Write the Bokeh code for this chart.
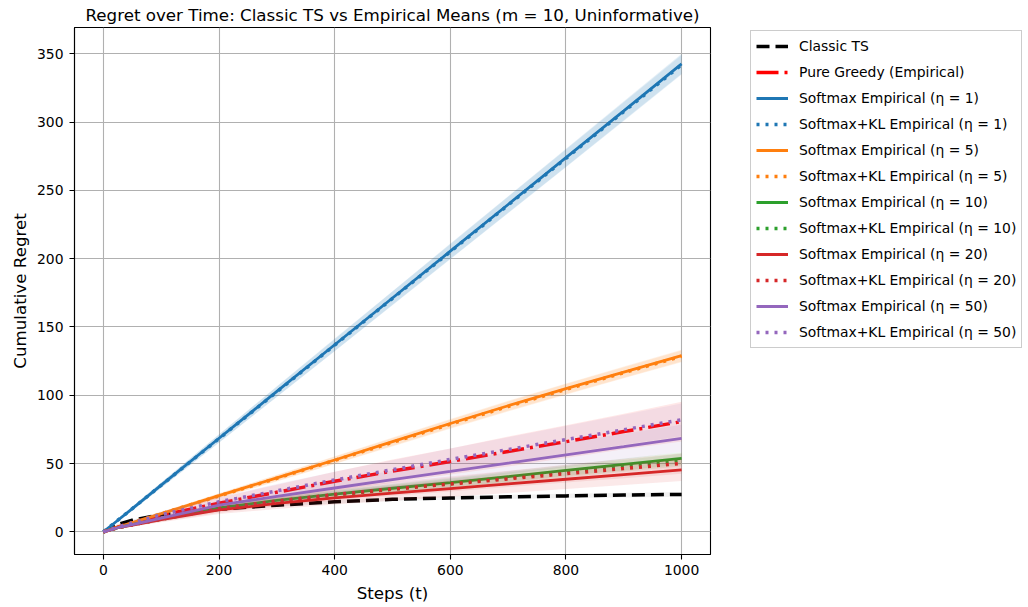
from bokeh.plotting import figure
from bokeh.models import Legend, LegendItem, Range1d, FixedTicker
from bokeh.embed import file_html
from bokeh.resources import INLINE

# ---------------- data ----------------
steps = [0, 25, 50, 100, 200, 300, 400, 500, 600, 700, 800, 900, 1000]

classic_ts = [0, 5.5, 8.5, 12.5, 16.5, 19.5, 22, 23.8, 24.8, 25.6, 26.3, 26.9, 27.4]
classic_ts_sd = [0, 0.5, 0.6, 0.8, 1, 1.1, 1.2, 1.3, 1.4, 1.5, 1.6, 1.7, 1.8]

greedy = [0, 3.5, 6.5, 12, 21, 29, 37, 44.5, 51.5, 58.8, 66, 73.4, 80.7]
greedy_sd = [0, 1, 1.5, 2.5, 4, 5.5, 7, 8.5, 9.5, 11, 12, 13, 14.5]

soft_1 = [0, 8.5, 17, 34.2, 68.5, 102.8, 137, 171.2, 205.5, 239.7, 274, 308.3, 342.7]
soft_1_sd = [0, 1, 1.5, 2, 3, 3.8, 4.5, 5, 5.6, 6.1, 6.6, 7, 7.3]
kl_1 = [0, 8.5, 17, 34.1, 68.3, 102.5, 136.7, 170.9, 205.1, 239.3, 273.5, 307.7, 342]
kl_1_sd = [0, 1, 1.5, 2, 3, 3.7, 4.4, 5, 5.5, 6, 6.5, 6.9, 7.2]

soft_5 = [0, 3.5, 6.8, 13.3, 26.5, 39.5, 52.6, 66, 79.3, 92.3, 104.8, 117, 129]
soft_5_sd = [0, 0.5, 0.8, 1.2, 1.8, 2.3, 2.7, 3, 3.3, 3.6, 3.9, 4.1, 4.3]
kl_5 = [0, 3.5, 6.8, 13.2, 26.3, 39.2, 52.3, 65.5, 78.8, 91.8, 104.3, 116.5, 128.5]
kl_5_sd = [0, 0.5, 0.8, 1.2, 1.8, 2.3, 2.7, 3, 3.3, 3.6, 3.9, 4.1, 4.3]

soft_10 = [0, 3, 5.2, 9.5, 17.5, 23, 27.6, 31.9, 36.1, 40.5, 45, 49.4, 53.8]
soft_10_sd = [0, 0.5, 1, 1.5, 2, 2.5, 3, 3.2, 3.5, 3.8, 4, 4.3, 4.5]
kl_10 = [0, 3, 5.1, 9.3, 17, 22.4, 27, 31.2, 35.4, 39.7, 44, 48.3, 52.6]
kl_10_sd = [0, 0.5, 1, 1.5, 2, 2.5, 3, 3.2, 3.5, 3.8, 4, 4.3, 4.5]

soft_20 = [0, 3, 5, 9, 16, 20.8, 24.8, 28.3, 31.7, 35.1, 38.5, 41.9, 45.3]
soft_20_sd = [0, 0.8, 1.2, 2, 3, 4, 4.8, 5.5, 6, 6.6, 7.1, 7.6, 8]
kl_20 = [0, 3, 5.1, 9.3, 17, 22.5, 27.3, 31.3, 35, 38.8, 42.6, 46.3, 50.1]
kl_20_sd = [0, 0.8, 1.2, 2, 3, 3.8, 4.5, 5, 5.5, 6, 6.5, 7, 7.5]

soft_50 = [0, 3, 5.3, 10, 19.5, 26, 32.1, 38.2, 44.2, 50.3, 56.4, 62.4, 68.5]
soft_50_sd = [0, 1, 1.5, 2, 3.5, 4.5, 5.5, 6.5, 7.5, 8, 9, 9.5, 10]
kl_50 = [0, 3.5, 6.5, 12.5, 22, 30, 38, 45.5, 53, 60.3, 67.5, 74.8, 82]
kl_50_sd = [0, 1, 1.5, 2.5, 3.5, 5, 6, 7, 8, 9, 10, 11, 12]

x_ticks = [0, 200, 400, 600, 800, 1000]
y_ticks = [0, 50, 100, 150, 200, 250, 300, 350]

title_text = "Regret over Time: Classic TS vs Empirical Means (m = 10, Uninformative)"

# ---------------- styles ----------------
FONT = "DejaVu Sans"
series = [
    ("Classic TS", classic_ts, classic_ts_sd, "black", "13 6", 3.5, 0.06),
    ("Pure Greedy (Empirical)", greedy, greedy_sd, "#ff0000", "22 6 3 6", 3.5, 0.09),
    ("Softmax Empirical (η = 1)", soft_1, soft_1_sd, "#1f77b4", "solid", 2.8, 0.11),
    ("Softmax+KL Empirical (η = 1)", kl_1, kl_1_sd, "#1f77b4", "3 6", 3.5, 0.11),
    ("Softmax Empirical (η = 5)", soft_5, soft_5_sd, "#ff7f0e", "solid", 2.8, 0.11),
    ("Softmax+KL Empirical (η = 5)", kl_5, kl_5_sd, "#ff7f0e", "3 6", 3.5, 0.11),
    ("Softmax Empirical (η = 10)", soft_10, soft_10_sd, "#2ca02c", "solid", 2.8, 0.1),
    ("Softmax+KL Empirical (η = 10)", kl_10, kl_10_sd, "#2ca02c", "3 6", 3.5, 0.1),
    ("Softmax Empirical (η = 20)", soft_20, soft_20_sd, "#d62728", "solid", 2.8, 0.1),
    ("Softmax+KL Empirical (η = 20)", kl_20, kl_20_sd, "#d62728", "3 6", 3.5, 0.1),
    ("Softmax Empirical (η = 50)", soft_50, soft_50_sd, "#9467bd", "solid", 2.8, 0.1),
    ("Softmax+KL Empirical (η = 50)", kl_50, kl_50_sd, "#9467bd", "3 6", 3.5, 0.1),
]

p = figure(
    frame_width=636, frame_height=527,
    output_backend="svg", toolbar_location=None,
    x_range=Range1d(-50, 1050), y_range=Range1d(-16.6, 369.3),
    min_border_left=74, min_border_right=0, min_border_top=26, min_border_bottom=54,
    title=title_text,
)

p.title.text_font = FONT
p.title.text_font_size = "16.7px"
p.title.text_font_style = "normal"
p.title.align = "center"
p.title.standoff = 5
p.title.text_color = "black"

p.outline_line_color = "black"
p.outline_line_width = 1.1
p.outline_line_alpha = 1

for ax in (p.xaxis, p.yaxis):
    ax.axis_line_color = "black"
    ax.axis_line_width = 1.1
    ax.major_tick_line_color = "black"
    ax.major_tick_line_width = 1.1
    ax.major_tick_out = 5
    ax.major_tick_in = 0
    ax.minor_tick_line_color = None
    ax.major_label_text_font = FONT
    ax.major_label_text_font_size = "13.9px"
    ax.major_label_text_color = "black"
    ax.axis_label_text_font = FONT
    ax.axis_label_text_font_size = "16.7px"
    ax.axis_label_text_font_style = "normal"
    ax.axis_label_text_color = "black"

p.xaxis.ticker = FixedTicker(ticks=x_ticks)
p.yaxis.ticker = FixedTicker(ticks=y_ticks)
p.xaxis.major_label_standoff = 5
p.xaxis.axis_label_standoff = 5
p.yaxis.major_label_standoff = 6
p.yaxis.axis_label_standoff = 4
p.xaxis.axis_label = "Steps (t)"
p.yaxis.axis_label = "Cumulative Regret"

p.grid.grid_line_color = "#b0b0b0"
p.grid.grid_line_width = 1.1
p.xgrid.ticker = FixedTicker(ticks=x_ticks)
p.ygrid.ticker = FixedTicker(ticks=y_ticks)

items = []
for label, vals, sd, color, dash, lw, alpha in series:
    lower = [v - s for v, s in zip(vals, sd)]
    upper = [v + s for v, s in zip(vals, sd)]
    p.varea(x=steps, y1=lower, y2=upper, fill_color=color, fill_alpha=alpha)
    r = p.line(steps, vals, line_color=color, line_width=lw, line_dash=dash)
    items.append(LegendItem(label=label, renderers=[r]))

legend = Legend(
    items=items, location=(40, 206), margin=0,
    padding=5, spacing=6, glyph_width=32, glyph_height=20,
    label_height=20, label_standoff=11,
    label_text_font=FONT, label_text_font_size="13.9px", label_text_color="black",
    border_line_color="#cccccc", border_line_width=1, border_line_alpha=1,
    background_fill_color="white", background_fill_alpha=0.8,
)
p.add_layout(legend, "right")

open("out.html", "w").write(file_html(p, INLINE))
